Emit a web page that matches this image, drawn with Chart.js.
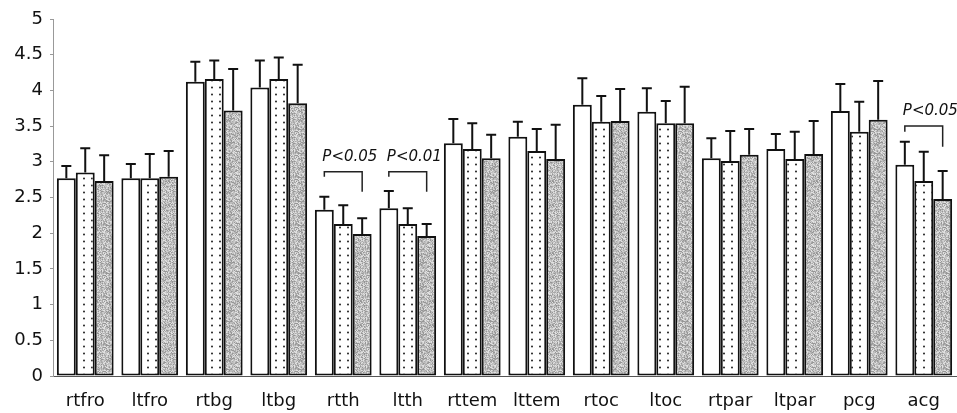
<!DOCTYPE html>
<html>
<head>
<meta charset="utf-8">
<script src="https://cdn.jsdelivr.net/npm/chart.js@4"></script>
<style>
  html, body { margin: 0; padding: 0; background: #fff; }
  #wrap { width: 957px; height: 413px; }
</style>
</head>
<body>
<div id="wrap"><canvas id="groupChart"></canvas></div>
<script>
// regions
const categories = ['rtfro', 'ltfro', 'rtbg', 'ltbg', 'rtth', 'ltth', 'rttem', 'lttem', 'rtoc', 'ltoc', 'rtpar', 'ltpar', 'pcg', 'acg'];

// group means
const whiteMeans  = [2.77, 2.77, 4.12, 4.04, 2.33, 2.35, 3.26, 3.35, 3.80, 3.70, 3.05, 3.18, 3.71, 2.96];
const dottedMeans = [2.85, 2.77, 4.16, 4.16, 2.13, 2.13, 3.18, 3.15, 3.56, 3.54, 3.01, 3.04, 3.42, 2.73];
const grayMeans   = [2.73, 2.79, 3.72, 3.82, 1.99, 1.96, 3.05, 3.04, 3.57, 3.54, 3.10, 3.11, 3.59, 2.48];

// upper error (SD)
const whiteSD  = [0.17, 0.20, 0.28, 0.38, 0.18, 0.24, 0.34, 0.21, 0.37, 0.33, 0.28, 0.21, 0.38, 0.32];
const dottedSD = [0.34, 0.34, 0.26, 0.30, 0.26, 0.22, 0.36, 0.31, 0.36, 0.31, 0.42, 0.38, 0.42, 0.41];
const graySD   = [0.36, 0.36, 0.58, 0.54, 0.22, 0.17, 0.33, 0.48, 0.45, 0.51, 0.36, 0.46, 0.54, 0.39];

const yTicks = [0, 0.5, 1, 1.5, 2, 2.5, 3, 3.5, 4, 4.5, 5];

// significance brackets: category, text, bracket top, left arm end, right arm end
const sigCats   = [4, 5, 13];
const sigLabels = ['P<0.05', 'P<0.01', 'P<0.05'];
const sigTop    = [2.86, 2.86, 3.50];
const sigLeft   = [2.79, 2.79, 3.42];
const sigRight  = [2.58, 2.58, 3.21];

function dotPattern() {
    const c = document.createElement('canvas');
    c.width = 8; c.height = 7;
    const g = c.getContext('2d');
    g.fillStyle = '#fff';
    g.fillRect(0, 0, 8, 7);
    g.fillStyle = '#222';
    g.beginPath();
    g.arc(4, 3.5, 1, 0, Math.PI * 2);
    g.fill();
    return g.createPattern(c, 'repeat');
}

// fine stipple texture (fixed hash, not data)
function grayPattern() {
    const n = 24;
    const c = document.createElement('canvas');
    c.width = n; c.height = n;
    const g = c.getContext('2d');
    for (let y = 0; y < n; y++) {
        for (let x = 0; x < n; x++) {
            const h = ((x * 73856093) ^ (y * 19349663) ^ ((x + y) * 83492791)) >>> 0;
            const t = h % 5;
            const shade = [150, 170, 190, 205, 225][t];
            g.fillStyle = 'rgb(' + shade + ',' + shade + ',' + shade + ')';
            g.fillRect(x, y, 1, 1);
        }
    }
    return g.createPattern(c, 'repeat');
}

const errorBars = {
    id: 'errorBars',
    afterDatasetsDraw(chart) {
        const ctx = chart.ctx;
        const y = chart.scales.y;
        ctx.save();
        ctx.strokeStyle = '#111';
        ctx.lineWidth = 2;
        chart.data.datasets.forEach((ds, di) => {
            const meta = chart.getDatasetMeta(di);
            meta.data.forEach((bar, i) => {
                const top = y.getPixelForValue(ds.data[i]);
                const end = y.getPixelForValue(ds.data[i] + ds.sd[i]);
                ctx.beginPath();
                ctx.moveTo(bar.x, top);
                ctx.lineTo(bar.x, end);
                ctx.moveTo(bar.x - 5, end);
                ctx.lineTo(bar.x + 5, end);
                ctx.stroke();
            });
        });
        ctx.restore();
    }
};

const sigMarks = {
    id: 'sigMarks',
    afterDatasetsDraw(chart) {
        const ctx = chart.ctx;
        const y = chart.scales.y;
        const m0 = chart.getDatasetMeta(0);
        const m2 = chart.getDatasetMeta(2);
        ctx.save();
        ctx.strokeStyle = '#222';
        ctx.lineWidth = 1.5;
        ctx.fillStyle = '#111';
        ctx.font = 'italic 15px "DejaVu Sans"';
        ctx.textBaseline = 'alphabetic';
        sigCats.forEach((c, k) => {
            const x1 = m0.data[c].x;
            const x2 = m2.data[c].x;
            const yt = y.getPixelForValue(sigTop[k]);
            ctx.beginPath();
            ctx.moveTo(x1, y.getPixelForValue(sigLeft[k]));
            ctx.lineTo(x1, yt);
            ctx.lineTo(x2, yt);
            ctx.lineTo(x2, y.getPixelForValue(sigRight[k]));
            ctx.stroke();
            ctx.fillText(sigLabels[k], x1 - 2, yt - 11);
        });
        ctx.restore();
    }
};

const ctx = document.getElementById('groupChart').getContext('2d');

function makeSet(data, sd, fill) {
    return {
        data: data,
        sd: sd,
        backgroundColor: fill,
        borderColor: '#111',
        borderWidth: 2,
        borderSkipped: false,
        barPercentage: 1,
        categoryPercentage: 0.88
    };
}

const groupChart = new Chart(ctx, {
    type: 'bar',
    data: {
        labels: categories,
        datasets: [
            makeSet(whiteMeans, whiteSD, '#ffffff'),
            makeSet(dottedMeans, dottedSD, dotPattern()),
            makeSet(grayMeans, graySD, grayPattern())
        ]
    },
    options: {
        responsive: true,
        maintainAspectRatio: false,
        animation: false,
        layout: { padding: { top: 19, right: 1, left: 0, bottom: 0 } },
        plugins: {
            legend: { display: false },
            tooltip: { enabled: false }
        },
        scales: {
            x: {
                grid: { display: false },
                border: { display: true, color: '#555', width: 1 },
                ticks: {
                    color: '#111',
                    font: { family: 'DejaVu Sans', size: 18 },
                    padding: 7
                },
                afterFit(scale) { scale.height = 37; }
            },
            y: {
                min: 0,
                max: 5,
                afterBuildTicks(scale) { scale.ticks = yTicks.map(v => ({ value: v })); },
                grid: { drawOnChartArea: false, tickLength: 3, color: '#999' },
                border: { display: true, color: '#999', width: 1, dash: [1, 1] },
                ticks: {
                    color: '#111',
                    font: { family: 'DejaVu Sans', size: 18 },
                    padding: 7,
                    callback: v => String(v)
                },
                afterFit(scale) { scale.width = 53; }
            }
        }
    },
    plugins: [errorBars, sigMarks]
});
</script>
</body>
</html>
